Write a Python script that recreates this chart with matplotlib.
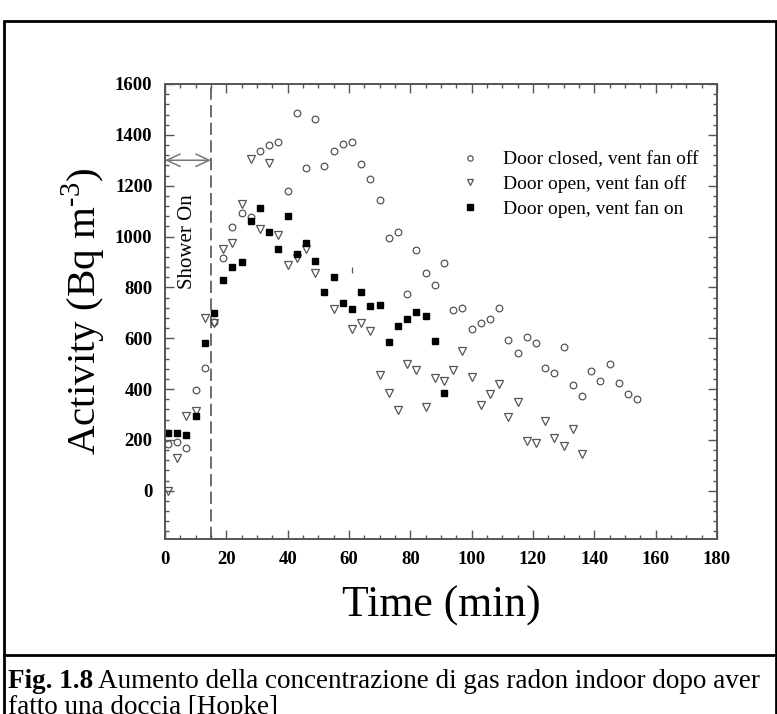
import numpy as np
import matplotlib.pyplot as plt
from matplotlib.patches import Rectangle
from matplotlib.lines import Line2D
from matplotlib.ticker import MultipleLocator

plt.rcParams['font.family'] = ['Liberation Serif', 'DejaVu Serif']
plt.rcParams['mathtext.fontset'] = 'custom'
plt.rcParams['mathtext.rm'] = 'Liberation Serif'

# door closed, vent fan off (open circles)
t_closed = [1, 4, 7, 10, 13, 16, 19, 22, 25, 28, 31, 34, 37, 40, 43, 46, 49, 52,
            55, 58, 61, 64, 67, 70, 73, 76, 79, 82, 85, 88, 91, 94, 97, 100, 103,
            106, 109, 112, 115, 118, 121, 124, 127, 130, 133, 136, 139, 142, 145,
            148, 151, 154]
closed_off = [183, 190, 168, 397, 482, 662, 915, 1039, 1091, 1078, 1337, 1360,
              1373, 1179, 1487, 1268, 1462, 1277, 1337, 1363, 1371, 1284, 1226,
              1144, 994, 1016, 773, 947, 856, 810, 897, 711, 720, 637, 659, 676,
              717, 594, 541, 605, 583, 482, 465, 567, 414, 371, 469, 432, 498,
              423, 381, 360]

# door open, vent fan off (open triangles)
t_open_off = [1, 4, 7, 10, 13, 16, 19, 22, 25, 28, 31, 34, 37, 40, 43, 46, 49,
              55, 61, 64, 67, 70, 73, 76, 79, 82, 85, 88, 91, 94, 97, 100, 103,
              106, 109, 112, 115, 118, 121, 124, 127, 130, 133, 136]
open_off = [0, 128, 292, 314, 679, 659, 950, 974, 1127, 1304, 1029, 1290, 1006,
            888, 915, 950, 858, 714, 635, 659, 630, 456, 386, 318, 499, 476, 331,
            443, 430, 476, 548, 449, 338, 381, 421, 290, 349, 194, 188, 276, 207,
            174, 242, 145]

# door open, vent fan on (filled squares)
t_open_on = [1, 4, 7, 10, 13, 16, 19, 22, 25, 28, 31, 34, 37, 40, 43, 46, 49,
             52, 55, 58, 61, 64, 67, 70, 73, 76, 79, 82, 85, 88, 91]
open_on = [227, 227, 220, 292, 580, 698, 829, 882, 901, 1062, 1114, 1019, 950,
           1081, 933, 976, 904, 782, 839, 740, 714, 782, 725, 731, 586, 647, 675,
           702, 687, 590, 384]

stray_t = [61]
stray_v = [870]

shower_end = 15
shower_level = 1300

labels = ['Door closed, vent fan off', 'Door open, vent fan off',
          'Door open, vent fan on']

W, H = 777, 714
fig = plt.figure(figsize=(W / 100, H / 100), dpi=100)
ax = fig.add_axes([165 / W, 1 - 539 / H, (717 - 165) / W, (539 - 84) / H])

gray = '#555555'
ax.plot(t_closed, closed_off, 'o', ms=4.8, mfc='none', mec=gray, mew=0.9,
        label=labels[0])
ax.plot(t_open_off, open_off, 'v', ms=5.6, mfc='none', mec=gray, mew=0.9,
        label=labels[1])
ax.plot(t_open_on, open_on, 's', ms=4.9, color='black', mec='black',
        label=labels[2])
ax.plot(stray_t, stray_v, '|', ms=5, color=gray, mew=0.9)

ax.axvline(shower_end, color='#444444', lw=1.1, ls=(0, (8, 3.5)))
ax.annotate('', xy=(0, shower_level), xytext=(shower_end, shower_level),
            arrowprops=dict(arrowstyle='<->,head_length=0.6,head_width=0.28',
                            color='#777777', lw=1.1, shrinkA=0, shrinkB=0,
                            mutation_scale=16))
ax.text(7.5, 980, 'Shower On', rotation=90, ha='center', va='center',
        fontsize=15)

ax.set_xlim(0, 180)
ax.set_ylim(-190, 1600)
ax.xaxis.set_major_locator(MultipleLocator(20))
ax.xaxis.set_minor_locator(MultipleLocator(5))
ax.yaxis.set_major_locator(MultipleLocator(200))
ax.yaxis.set_minor_locator(MultipleLocator(40))
ax.tick_params(which='both', direction='in', top=True, right=True,
               color='#555555', labelsize=13.5, width=1.0)
ax.tick_params(which='major', length=6.5)
ax.tick_params(which='minor', length=3.2)
ax.tick_params(axis='x', pad=9)
ax.tick_params(axis='y', pad=9)
for lab in ax.get_xticklabels() + ax.get_yticklabels():
    lab.set_fontweight('bold')
for s in ax.spines.values():
    s.set_color('#555555')
    s.set_linewidth(1.4)

ax.set_xlabel('Time (min)', fontsize=31.5, labelpad=12)
ax.set_ylabel(r'Activity (Bq m$^{\text{-}3}$)', fontsize=29.5, labelpad=5)

leg = ax.legend(loc='upper left', bbox_to_anchor=(0.535, 0.853), frameon=False,
                fontsize=14, handlelength=1.0, handletextpad=1.2,
                labelspacing=0.35, borderpad=0, borderaxespad=0,
                markerscale=0.8)

# outer frame and caption box
fig.add_artist(Rectangle((4 / W, -0.05), 772 / W, 1.05 - 21 / H,
                         transform=fig.transFigure, fill=False, lw=2,
                         edgecolor='black'))
fig.add_artist(Line2D([4 / W, 776 / W], [1 - 655 / H, 1 - 655 / H],
                      transform=fig.transFigure, color='black', lw=2))

cap_size = 19.5
t1 = fig.text(8 / W, 1 - 681 / H, 'Fig. 1.8', fontsize=cap_size, weight='bold',
              va='center', ha='left')
fig.canvas.draw()
bb = t1.get_window_extent()
fig.text((bb.x1 + 5) / W, 1 - 681 / H,
         'Aumento della concentrazione di gas radon indoor dopo aver',
         fontsize=cap_size, va='center', ha='left')
fig.text(8 / W, 1 - 708 / H, 'fatto una doccia [Hopke]', fontsize=cap_size,
         va='center', ha='left')

fig.savefig('out.png', dpi=100)
